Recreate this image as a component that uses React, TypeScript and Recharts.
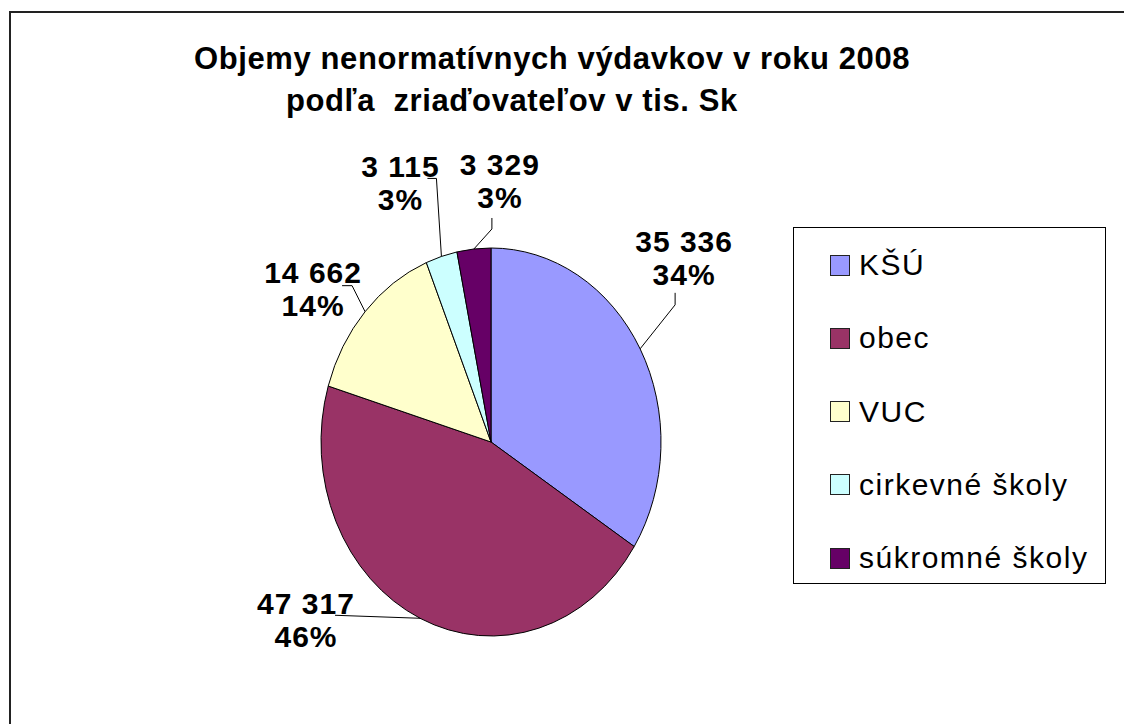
import { PieChart, Pie, Cell, Legend } from "recharts";

const categories = ["KŠÚ", "obec", "VUC", "cirkevné školy", "súkromné školy"];
const values = [35336, 47317, 14662, 3115, 3329];
const colors = ["#9999FF", "#993366", "#FFFFCC", "#CCFFFF", "#660066"];
const titleLines = ["Objemy nenormatívnych výdavkov v roku 2008", "podľa  zriaďovateľov v tis. Sk"];

const data = categories.map((name, i) => ({ name, value: values[i] }));

// pie is drawn as a circle squeezed horizontally, like the source
const RX = 170 / 194;
const FONT = "'Liberation Sans', Arial, sans-serif";

// where each label sits relative to the point where its leader meets the pie
const labelLayout = [
  { dx: 44, top: -119, elbow: [35, -44], end: [35, -56] },
  { dx: -114, top: -26, elbow: [-85, -3], end: [-85, -3] },
  { dx: -52, top: -51, elbow: [-13, -26], end: [-23, -26] },
  { dx: -41, top: -101, elbow: [-5, -78], end: [-14, -78] },
  { dx: 26, top: -96, elbow: [18, -20], end: [18, -31] },
];

const fmt = (v: number) => String(v).replace(/\B(?=(\d{3})+(?!\d))/g, " ");

const pt = (cx: number, cy: number, r: number, a: number) => {
  const rad = (a * Math.PI) / 180;
  return [cx + r * RX * Math.cos(rad), cy - r * Math.sin(rad)];
};

const EllipseSector = (props: any) => {
  const { cx, cy, outerRadius, startAngle, endAngle, fill } = props;
  const [x1, y1] = pt(cx, cy, outerRadius, startAngle);
  const [x2, y2] = pt(cx, cy, outerRadius, endAngle);
  const large = Math.abs(startAngle - endAngle) > 180 ? 1 : 0;
  const sweep = startAngle > endAngle ? 1 : 0;
  const d = `M${cx},${cy} L${x1},${y1} A${outerRadius * RX},${outerRadius} 0 ${large} ${sweep} ${x2},${y2} Z`;
  return <path d={d} fill={fill} stroke="#000" strokeWidth={1} strokeLinejoin="round" />;
};

const labelStyle = { fontFamily: FONT, fontSize: 30, fontWeight: 700, letterSpacing: 1 };

const renderLabel = (p: any) => {
  const { cx, cy, midAngle, outerRadius, value, percent, index } = p;
  const [ex, ey] = pt(cx, cy, outerRadius, midAngle);
  const o = labelLayout[index];
  const pts = [
    [ex, ey],
    [ex + o.elbow[0], ey + o.elbow[1]],
    [ex + o.end[0], ey + o.end[1]],
  ]
    .map((q) => q.join(","))
    .join(" ");
  const lx = ex + o.dx;
  const by = ey + o.top + 22;
  return (
    <g key={`lbl-${index}`}>
      <polyline points={pts} fill="none" stroke="#000" strokeWidth={1} />
      <text x={lx} y={by} textAnchor="middle" fill="#000" style={labelStyle}>
        {fmt(value)}
      </text>
      <text x={lx} y={by + 33} textAnchor="middle" fill="#000" style={labelStyle}>
        {Math.round(percent * 100)}%
      </text>
    </g>
  );
};

const LegendBox = () => (
  <div
    style={{
      position: "relative",
      width: 313,
      height: 357,
      boxSizing: "border-box",
      border: "1.5px solid #000",
      background: "#fff",
      fontFamily: FONT,
    }}
  >
    {categories.map((c, i) => (
      <div
        key={c}
        style={{
          position: "absolute",
          left: 36,
          top: 23 + i * 73.3,
          height: 28,
          display: "flex",
          alignItems: "center",
          whiteSpace: "nowrap",
        }}
      >
        <div
          style={{
            width: 20,
            height: 21,
            boxSizing: "border-box",
            border: "1px solid #222",
            background: colors[i],
            marginRight: 9,
          }}
        />
        <span style={{ fontSize: 30, lineHeight: "28px", letterSpacing: 1.5, color: "#000" }}>{c}</span>
      </div>
    ))}
  </div>
);

export default function App() {
  return (
    <div
      style={{
        position: "absolute",
        left: 0,
        top: 0,
        width: 1124,
        height: 724,
        overflow: "hidden",
        background: "#fff",
      }}
    >
      <div
        style={{
          position: "absolute",
          left: 9,
          top: 11,
          width: 1300,
          height: 900,
          border: "2px solid #222",
        }}
      />
      <svg width={1124} height={724} style={{ position: "absolute", left: 0, top: 0 }}>
        <text x={194} y={69} style={{ fontFamily: FONT, fontSize: 31, fontWeight: 700, letterSpacing: 0.6 }}>
          {titleLines[0]}
        </text>
        <text
          x={286}
          y={111}
          style={{ fontFamily: FONT, fontSize: 31, fontWeight: 700, letterSpacing: 0.6, whiteSpace: "pre" }}
        >
          {titleLines[1]}
        </text>
      </svg>
      <div style={{ position: "absolute", left: 0, top: 0 }}>
        <PieChart width={1124} height={724} margin={{ top: 0, right: 0, bottom: 0, left: 0 }}>
          <Pie
            data={data}
            dataKey="value"
            nameKey="name"
            cx={491}
            cy={442}
            outerRadius={194}
            startAngle={90}
            endAngle={-270}
            shape={EllipseSector}
            label={renderLabel}
            labelLine={false}
            isAnimationActive={false}
          >
            {data.map((d, i) => (
              <Cell key={d.name} fill={colors[i]} />
            ))}
          </Pie>
          <Legend
            layout="vertical"
            align="right"
            verticalAlign="top"
            content={() => <LegendBox />}
            wrapperStyle={{ position: "absolute", left: 793, top: 227, width: 313, height: 357 }}
          />
        </PieChart>
      </div>
    </div>
  );
}
